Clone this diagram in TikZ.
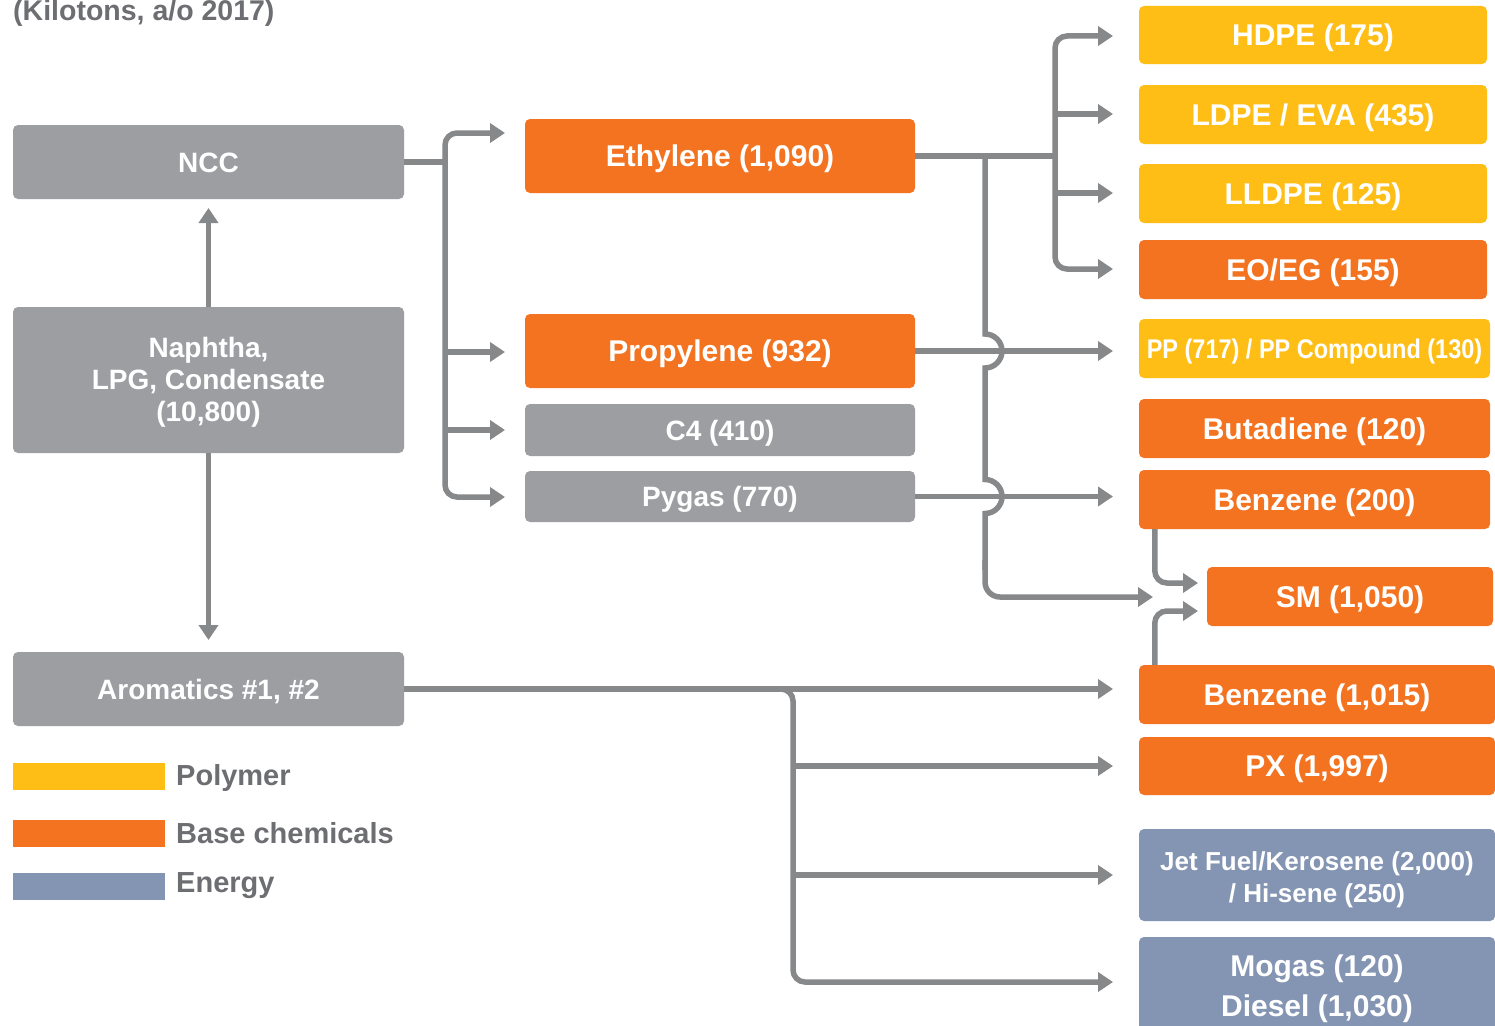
\documentclass[tikz,border=0pt]{standalone}
\usepackage{fontspec}
\usepackage{graphicx}
\setmainfont{Liberation Sans}
\usetikzlibrary{arrows.meta}
\definecolor{boxgray}{RGB}{157,158,162}
\definecolor{boxorange}{RGB}{243,115,33}
\definecolor{boxyellow}{RGB}{254,190,22}
\definecolor{boxenergy}{RGB}{131,149,179}
\definecolor{linegray}{RGB}{135,136,138}
\definecolor{textgray}{RGB}{109,110,113}
\begin{document}
\begin{tikzpicture}[x=1pt,y=-1pt,
  box/.style={rectangle, rounded corners=5pt, inner sep=0pt, text=white,
    font=\fontsize{30}{33}\selectfont\bfseries, align=center, text height=21.5pt, text depth=0pt},
  box28/.style={font=\fontsize{28}{32}\selectfont\bfseries, text height=20pt},
  gbox/.style={box, fill=boxgray},
  obox/.style={box, fill=boxorange},
  ybox/.style={box, fill=boxyellow},
  ebox/.style={box, fill=boxenergy},
  boxtext/.style={inner sep=0pt, text=white, align=center},
  conn/.style={draw=linegray, line width=5.5pt},
  arr/.style={conn, -{Triangle[length=15pt,width=19pt]}},
  legswatch/.style={rectangle, inner sep=0pt, minimum width=152pt, minimum height=27pt, anchor=north west},
  legtext/.style={anchor=west, inner sep=0pt, text=textgray, font=\fontsize{29}{32}\selectfont\bfseries},
]
\useasboundingbox (0,0) rectangle (1495,1025);
\fill[white] (0,0) rectangle (1495,1025);

% title
\node[anchor=base west, inner sep=0pt, text=textgray, font=\fontsize{28.5}{32}\selectfont\bfseries] (title) at (13,21) {(Kilotons, a/o 2017)};

% left column
\node[gbox, box28, minimum width=391pt, minimum height=74pt] (ncc) at (208.5,162) {NCC};
\node[gbox, minimum width=391pt, minimum height=146pt, text height=, text depth=] (naph) at (208.5,380) {};
\node[boxtext, font=\fontsize{28}{32}\selectfont\bfseries, yshift=-2pt] (naphtext) at (naph.center) {Naphtha,\\LPG, Condensate\\(10,800)};
\node[gbox, box28, minimum width=391pt, minimum height=74pt] (arom) at (208.5,689) {Aromatics \#1, \#2};

% middle column
\node[obox, minimum width=390pt, minimum height=74pt] (eth) at (720,156) {Ethylene (1,090)};
\node[obox, minimum width=390pt, minimum height=74pt] (prop) at (720,351) {Propylene (932)};
\node[gbox, box28, minimum width=390pt, minimum height=52pt] (c4) at (720,430) {C4 (410)};
\node[gbox, box28, minimum width=390pt, minimum height=51pt] (pyg) at (720,496.5) {Pygas (770)};

% right column
\node[ybox, minimum width=348pt, minimum height=58pt] (hdpe) at (1313,35) {HDPE (175)};
\node[ybox, minimum width=348pt, minimum height=59pt] (ldpe) at (1313,114.5) {LDPE / EVA (435)};
\node[ybox, minimum width=348pt, minimum height=59pt] (lldpe) at (1313,193.5) {LLDPE (125)};
\node[obox, minimum width=348pt, minimum height=59pt] (eoeg) at (1313,269.5) {EO/EG (155)};
\node[ybox, minimum width=351pt, minimum height=59pt, text height=19.5pt] (pp) at (1314.5,348.5) {\scalebox{0.87}[1]{\fontsize{27}{30}\selectfont\bfseries PP (717) / PP Compound (130)}};
\node[obox, minimum width=351pt, minimum height=59pt] (buta) at (1314.5,428.5) {Butadiene (120)};
\node[obox, minimum width=351pt, minimum height=59pt] (benz1) at (1314.5,499.5) {Benzene (200)};
\node[obox, minimum width=286pt, minimum height=59pt] (sm) at (1350,596.5) {SM (1,050)};
\node[obox, minimum width=356pt, minimum height=59pt] (benz2) at (1317,694.5) {Benzene (1,015)};
\node[obox, minimum width=356pt, minimum height=58pt] (px) at (1317,766) {PX (1,997)};
\node[ebox, minimum width=356pt, minimum height=92pt, text height=, text depth=] (jet) at (1317,875) {};
\node[boxtext, font=\fontsize{26}{32}\selectfont\bfseries, yshift=-5pt] (jettext) at (jet.center) {Jet Fuel/Kerosene (2,000)\\/ Hi-sene (250)};
\node[ebox, minimum width=356pt, minimum height=100pt, text height=, text depth=] (mogas) at (1317,987) {};
\node[boxtext, font=\fontsize{30}{40}\selectfont\bfseries, yshift=-2pt] (mogastext) at (mogas.center) {Mogas (120)\\Diesel (1,030)};

% legend
\node[legswatch, fill=boxyellow] (legP) at (13,763) {};
\node[legswatch, fill=boxorange] (legB) at (13,820) {};
\node[legswatch, fill=boxenergy] (legE) at (13,873) {};
\node[legtext] (legPt) at (176,778) {Polymer};
\node[legtext] (legBt) at (176,833) {Base chemicals};
\node[legtext] (legEt) at (176,886) {Energy};

% coordinates
\coordinate (nccJ) at (445,162);
\coordinate (ethJ) at (1055,156);
\coordinate (hopT) at (985,156);
\coordinate (aroJ) at (793,689);

% Naphtha connections
\draw[arr] (naph.north) -- (208.5,208);
\draw[arr] (naph.south) -- (208.5,640);

% NCC branch
\draw[conn, line width=6.5pt] (ncc.east) -- (nccJ);
\draw[arr, rounded corners=12pt] (nccJ) |- (505,133);
\draw[arr, rounded corners=12pt] (nccJ) |- (505,497);
\draw[arr] (445,352) -- (505,352);
\draw[arr] (445,430) -- (505,430);

% Ethylene branch
\draw[conn, line width=6.5pt] (eth.east) -- (ethJ);
\draw[arr, rounded corners=12pt] (ethJ) |- (1113,36);
\draw[arr, rounded corners=12pt] (ethJ) |- (1113,269);
\draw[arr] (1055,114) -- (1113,114);
\draw[arr] (1055,193) -- (1113,193);

% Propylene / Pygas
\draw[arr] (prop.east) -- (1113,351);
\draw[arr] (pyg.east) -- (1113,496.5);

% Ethylene -> SM with hops
\draw[conn] (hopT) -- (985,334) arc[start angle=90, end angle=-90, radius=17pt]
  -- (985,479.5) arc[start angle=90, end angle=-90, radius=17pt] -- (985,570);
\draw[arr, rounded corners=15pt] (985,560) |- (1153,597);

% Benzene -> SM
\draw[arr, rounded corners=12pt] (benz1.south west) ++(16,0) |- (1198,583);
\draw[arr, rounded corners=12pt] (benz2.north west) ++(16,0) |- (1198,611);

% Aromatics branch
\draw[arr, line width=6.5pt] (arom.east) -- (1113,689);
\draw[arr, rounded corners=12pt] (775,689) -- (aroJ) -- (793,982) -- (1113,982);
\draw[arr] (793,766) -- (1113,766);
\draw[arr] (793,875) -- (1113,875);
\end{tikzpicture}
\end{document}
